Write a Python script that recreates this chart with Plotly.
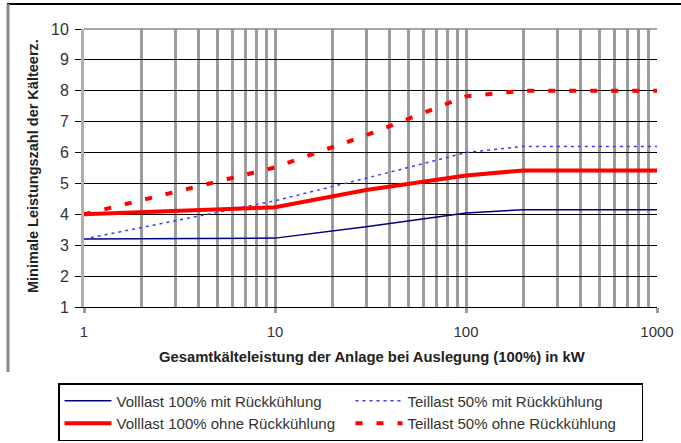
import plotly.graph_objects as go

# Gesamtkälteleistung (kW) und minimale Leistungszahl je Betriebsfall
leistung_kw = [1, 10, 30, 100, 200, 1000]
volllast_mit = [3.2, 3.23, 3.6, 4.04, 4.15, 4.15]
teillast_mit = [3.2, 4.44, 5.17, 6.0, 6.2, 6.2]
volllast_ohne = [4.0, 4.23, 4.79, 5.26, 5.42, 5.42]
teillast_ohne = [4.0, 5.52, 6.56, 7.82, 8.0, 8.0]

major_ticks = [1, 10, 100, 1000]
major_labels = ["1", "10", "100", "1000"]
minor_ticks = [m * d for d in (1, 10, 100) for m in range(2, 10)]
y_ticks = list(range(1, 11))

W, H = 681, 443
L, R, T, B = 84, 24, 29, 136
PW, PH = W - L - R, H - T - B


def px(xp):
    return (xp - L) / PW


def py(yp):
    return (H - B - yp) / PH


FONT = "Liberation Sans, Arial, sans-serif"

fig = go.Figure()
fig.add_trace(go.Scatter(x=leistung_kw, y=volllast_mit, mode="lines",
                         name="Volllast 100% mit Rückkühlung",
                         line=dict(color="#000080", width=1.5)))
fig.add_trace(go.Scatter(x=leistung_kw, y=teillast_mit, mode="lines",
                         name="Teillast 50% mit Rückkühlung",
                         line=dict(color="#3a3aff", width=1.5, dash="3px,4px")))
fig.add_trace(go.Scatter(x=leistung_kw, y=volllast_ohne, mode="lines",
                         name="Volllast 100% ohne Rückkühlung",
                         line=dict(color="#ff0000", width=4)))
fig.add_trace(go.Scatter(x=leistung_kw, y=teillast_ohne, mode="lines",
                         name="Teillast 50% ohne Rückkühlung",
                         line=dict(color="#ff0000", width=4, dash="7px,14px")))

fig.update_xaxes(
    type="log", range=[0, 3],
    tickmode="array", tickvals=major_ticks, ticktext=major_labels,
    showgrid=True, gridcolor="#9c9c9c", gridwidth=2.5,
    ticks="outside", ticklen=5, tickwidth=2.5, tickcolor="#9c9c9c",
    minor=dict(tickmode="array", tickvals=minor_ticks, showgrid=True,
               gridcolor="#9c9c9c", gridwidth=2.5, ticks=""),
    showline=True, linecolor="black", linewidth=1.2,
    tickfont=dict(family=FONT, size=15, color="#333333"),
    ticklabelstandoff=6, zeroline=False,
)
fig.update_yaxes(
    range=[1, 10], tickmode="array", tickvals=y_ticks,
    showgrid=True, gridcolor="black", gridwidth=1.2,
    ticks="outside", ticklen=6, tickcolor="black", tickwidth=1,
    showline=True, linecolor="#b0b0b0", linewidth=3,
    tickfont=dict(family=FONT, size=16, color="#333333"),
    ticklabelstandoff=3, zeroline=False,
)

shapes = [
    # obere Begrenzung der Zeichenfläche
    dict(type="line", xref="paper", yref="paper", x0=0, x1=1, y0=1, y1=1,
         line=dict(color="#888888", width=1.5), layer="above"),
    # Rahmen des Diagrammbereichs
    dict(type="line", xref="paper", yref="paper", x0=px(7), x1=px(W + 5),
         y0=py(4), y1=py(4), line=dict(color="black", width=2)),
    dict(type="line", xref="paper", yref="paper", x0=px(8), x1=px(8),
         y0=py(4), y1=py(372), line=dict(color="#888888", width=3)),
    # graue Seitenkanten der Legende
    dict(type="line", xref="paper", yref="paper", x0=px(59.5), x1=px(59.5),
         y0=py(384), y1=py(438), line=dict(color="#c4c4c4", width=3), layer="above"),
    dict(type="line", xref="paper", yref="paper", x0=px(633), x1=px(633),
         y0=py(384), y1=py(438), line=dict(color="#c4c4c4", width=3), layer="above"),
]

annotations = [
    dict(text="<b>Gesamtkälteleistung der Anlage bei Auslegung (100%) in kW</b>",
         xref="paper", yref="paper", x=px(372), y=py(357),
         xanchor="center", yanchor="middle", showarrow=False,
         font=dict(family=FONT, size=14.8, color="#222222")),
    dict(text="<b>Minimale Leistungszahl der Kälteerz.</b>",
         xref="paper", yref="paper", x=px(33), y=py(166), textangle=-90,
         xanchor="center", yanchor="middle", showarrow=False,
         font=dict(family=FONT, size=14.5, color="#222222")),
]

fig.update_layout(
    width=W, height=H,
    margin=dict(l=L, r=R, t=T, b=B, autoexpand=False),
    paper_bgcolor="white", plot_bgcolor="white",
    showlegend=True,
    legend=dict(
        orientation="h", x=px(58), y=py(383), xanchor="left", yanchor="top",
        entrywidth=229, entrywidthmode="pixels", itemwidth=47,
        bgcolor="white", bordercolor="black", borderwidth=1.5,
        font=dict(family=FONT, size=15, color="#333333"),
        traceorder="normal",
    ),
    shapes=shapes, annotations=annotations,
)

fig.write_html("out.html")
